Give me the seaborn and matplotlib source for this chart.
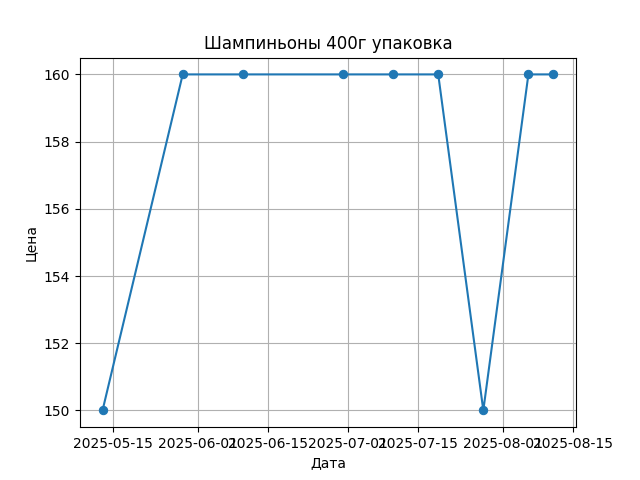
import matplotlib
matplotlib.use("Agg")
import matplotlib.pyplot as plt
import pandas as pd
import seaborn as sns

dates = ["2025-05-13", "2025-05-29", "2025-06-10", "2025-06-30", "2025-07-10",
         "2025-07-19", "2025-07-28", "2025-08-06", "2025-08-11"]
prices = [150, 160, 160, 160, 160, 160, 150, 160, 160]

df = pd.DataFrame({"Дата": pd.to_datetime(dates), "Цена": prices})

fig, ax = plt.subplots(figsize=(6.4, 4.8), dpi=100)
sns.lineplot(data=df, x="Дата", y="Цена", marker="o", color="#1f77b4",
             markeredgecolor="#1f77b4", markersize=6, linewidth=1.5, ax=ax)
ax.set_title("Шампиньоны 400г упаковка")
ax.set_xlabel("Дата")
ax.set_ylabel("Цена")
ax.xaxis.set_major_locator(matplotlib.dates.SemiMonthLocator() if hasattr(matplotlib.dates, "SemiMonthLocator") else matplotlib.dates.DayLocator(bymonthday=[1, 15]))
ax.xaxis.set_major_formatter(matplotlib.dates.DateFormatter("%Y-%m-%d"))
ax.grid(True)
fig.savefig("out.png", dpi=100)
